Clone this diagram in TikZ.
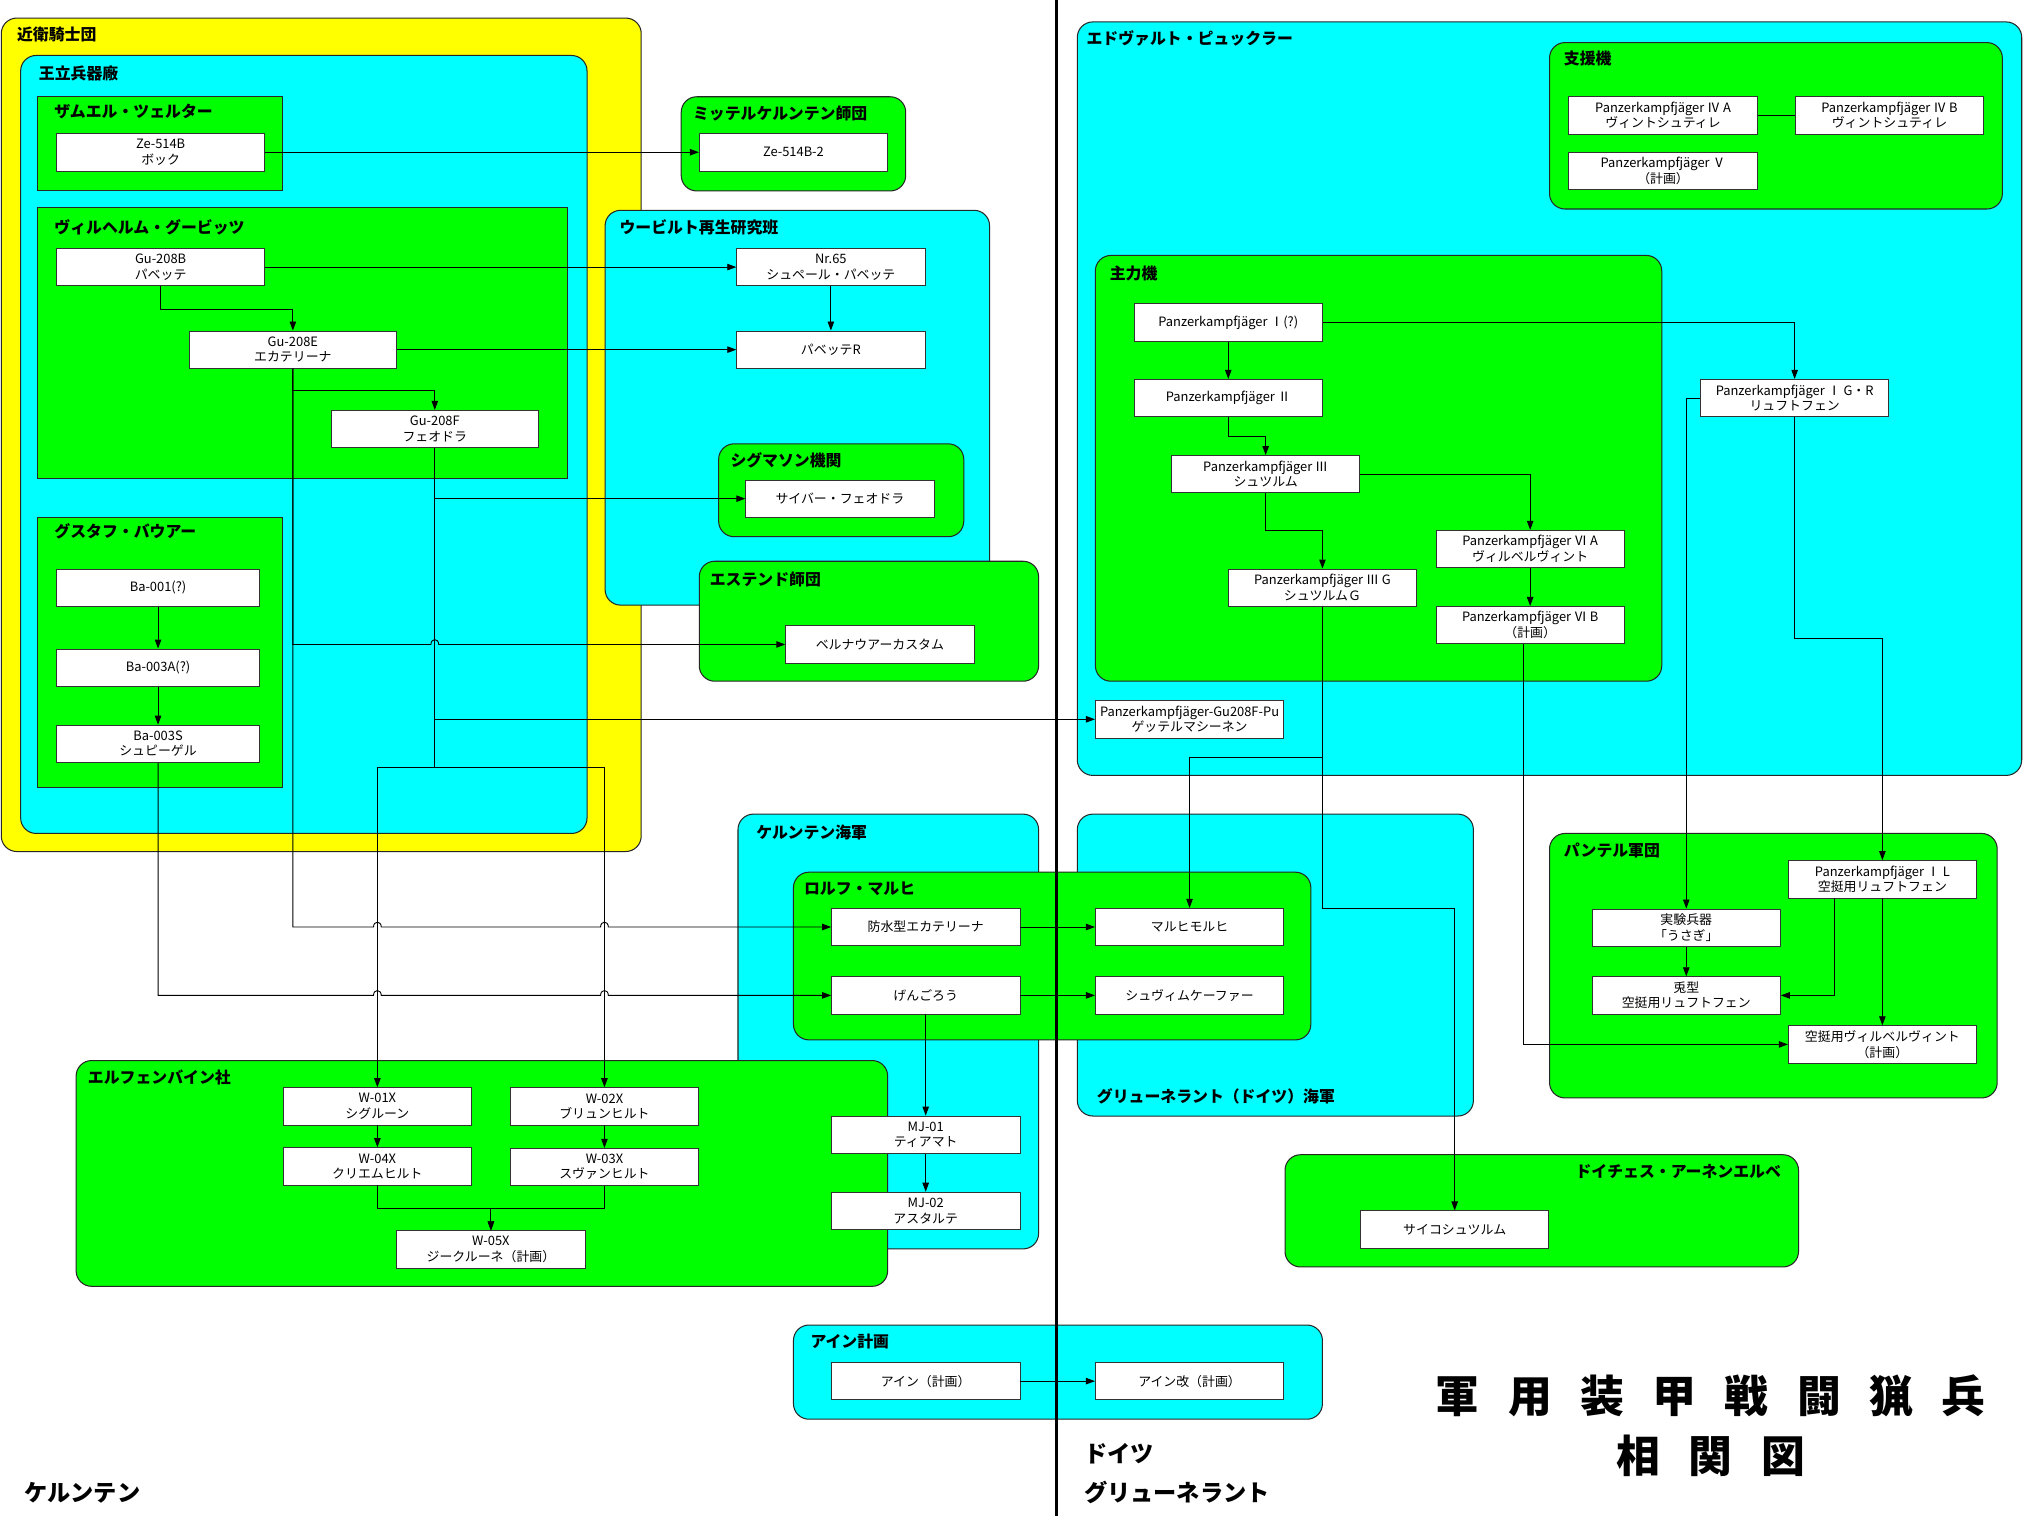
\documentclass[tikz,border=0pt]{standalone}
\usepackage{fontspec}
\setmainfont{Noto Sans CJK JP}
\usetikzlibrary{arrows.meta,calc}
\definecolor{cyanbg}{RGB}{0,255,255}
\definecolor{greenbg}{RGB}{0,255,0}
\definecolor{yellowbg}{RGB}{255,255,0}
\begin{document}
\begin{tikzpicture}[x=1pt,y=-1pt,
 box/.style={draw=black!80, line width=0.6pt, fill=white, minimum width=146pt, minimum height=29pt, inner sep=0pt, align=center, font=\fontsize{10}{12}\selectfont},
 wbox/.style={box, minimum width=161pt},
 bbox/.style={box, minimum width=157pt},
 ybg/.style={draw=black!85, line width=0.8pt, fill=yellowbg, rounded corners=12pt},
 cbg/.style={draw=black!85, line width=0.8pt, fill=cyanbg, rounded corners=12pt},
 gbg/.style={draw=black!85, line width=0.8pt, fill=greenbg, rounded corners=12pt},
 gsq/.style={draw=black!85, line width=0.8pt, fill=greenbg},
 glabel/.style={anchor=west, font=\fontsize{12.3}{14}\selectfont\bfseries, inner sep=0pt},
 arr/.style={draw, line width=0.7pt, -{Triangle[length=7pt,width=5pt]}},
 ln/.style={draw, line width=0.7pt},
 biglabel/.style={anchor=west, inner sep=0pt, font=\fontsize{18}{20}\selectfont\bfseries},
 title/.style={font=\fontsize{34}{40}\selectfont\bfseries, inner sep=0pt},
]
\useasboundingbox (0,0) rectangle (1568,1175);
\fill[white] (0,0) rectangle (1568,1175);

% ---------- groups ----------
\path[ybg] (1,14) rectangle (497,660);
\node[glabel] (lkonoe) at (13,27) {近衛騎士団};
\path[cbg] (16,43) rectangle (455,646);
\node[glabel] (lhei) at (30,57) {王立兵器廠};
\path[gsq] (29,75) rectangle (219,148);
\node[glabel] (lzam) at (42,86) {ザムエル・ツェルター};
\path[gsq] (29,161) rectangle (440,371);
\node[glabel] (lwil) at (42,176) {ヴィルヘルム・グービッツ};
\path[gsq] (29,401) rectangle (219,610);
\node[glabel] (lgus) at (42,412) {グスタフ・バウアー};

\path[gbg] (528,75) rectangle (702,148);
\node[glabel] (lmit) at (537,88) {ミッテルケルンテン師団};
\path[cbg] (469,163) rectangle (767,469);
\node[glabel] (luub) at (480,176) {ウービルト再生研究班};
\path[gbg] (557,344) rectangle (747,416);
\node[glabel] (lsig) at (566,357) {シグマソン機関};
\path[gbg] (542,435) rectangle (805,528);
\node[glabel] (lest) at (550,449) {エステンド師団};

\path[cbg] (835,17) rectangle (1567,601);
\node[glabel] (ledv) at (842,30) {エドヴァルト・ピュックラー};
\path[gbg] (1201,33) rectangle (1552,162);
\node[glabel] (lshi) at (1212,45) {支援機};
\path[gbg] (849,198) rectangle (1288,528);
\node[glabel] (lshu) at (860,212) {主力機};

\path[cbg] (572,631) rectangle (805,968);
\node[glabel] (lkn) at (586,645) {ケルンテン海軍};
\path[cbg] (835,631) rectangle (1142,865);
\node[glabel] (lgn) at (850,850) {グリューネラント（ドイツ）海軍};
\path[gbg] (615,676) rectangle (1016,806);
\node[glabel] (lrol) at (623,689) {ロルフ・マルヒ};
\path[gbg] (59,822) rectangle (688,997);
\node[glabel] (lelf) at (68,835) {エルフェンバイン社};
\path[gbg] (1201,646) rectangle (1548,851);
\node[glabel] (lpan) at (1212,659) {パンテル軍団};
\path[gbg] (996,895) rectangle (1394,982);
\node[glabel] (lahn) at (1221,908) {ドイチェス・アーネンエルベ};
\path[cbg] (615,1027) rectangle (1025,1100);
\node[glabel] (lein) at (628,1040) {アイン計画};

% ---------- nodes ----------
\node[wbox] (ze514b) at (124.5,118) {Ze-514B\\ボック};
\node[wbox] (gu208b) at (124.5,207) {Gu-208B\\パベッテ};
\node[wbox] (gu208e) at (227,271) {Gu-208E\\エカテリーナ};
\node[wbox] (gu208f) at (337,332.5) {Gu-208F\\フェオドラ};
\node[bbox] (ba001) at (122.5,455.5) {Ba-001(?)};
\node[bbox] (ba003a) at (122.5,517.5) {Ba-003A(?)};
\node[bbox] (ba003s) at (122.5,576.5) {Ba-003S\\シュピーゲル};

\node[box] (ze514b2) at (615,118) {Ze-514B-2};
\node[box] (nr65) at (644,207) {Nr.65\\シュペール・パベッテ};
\node[box] (babetter) at (644,271) {パベッテR};
\node[box] (cyber) at (651,386.5) {サイバー・フェオドラ};
\node[box] (bernauer) at (682,499.5) {ベルナウアーカスタム};

\node[box] (pz4a) at (1289,89.5) {Panzerkampfjäger Ⅳ A\\ヴィントシュティレ};
\node[box] (pz4b) at (1464.5,89.5) {Panzerkampfjäger Ⅳ B\\ヴィントシュティレ};
\node[box] (pz5) at (1289,132.5) {Panzerkampfjäger Ⅴ\\（計画）};
\node[box] (pz1) at (952,250) {Panzerkampfjäger Ⅰ(?)};
\node[box] (pz2) at (952,308.5) {Panzerkampfjäger Ⅱ};
\node[box] (pz3) at (981,367.5) {Panzerkampfjäger Ⅲ\\シュツルム};
\node[box] (pz6a) at (1186,425.5) {Panzerkampfjäger Ⅵ A\\ヴィルベルヴィント};
\node[box] (pz3g) at (1025,455.5) {Panzerkampfjäger Ⅲ G\\シュツルムＧ};
\node[box] (pz6b) at (1186,484.5) {Panzerkampfjäger Ⅵ B\\（計画）};
\node[box] (pzgr) at (1391,308.5) {Panzerkampfjäger Ⅰ G・R\\リュフトフェン};
\node[box] (goetter) at (922,557.5) {Panzerkampfjäger-Gu208F-Pu\\ゲッテルマシーネン};

\node[box] (bousui) at (717.5,718.5) {防水型エカテリーナ};
\node[box] (genbox) at (717.5,771.5) {げんごろう};
\node[box] (maruhi) at (922,718.5) {マルヒモルヒ};
\node[box] (schwimm) at (922,771.5) {シュヴィムケーファー};
\node[box] (mj01) at (717.5,879.5) {MJ-01\\ティアマト};
\node[box] (mj02) at (717.5,938.5) {MJ-02\\アスタルテ};

\node[box] (w01x) at (292.5,857.5) {W-01X\\シグルーン};
\node[box] (w02x) at (468.5,857.5) {W-02X\\ブリュンヒルト};
\node[box] (w04x) at (292.5,904) {W-04X\\クリエムヒルト};
\node[box] (w03x) at (468.5,904.5) {W-03X\\スヴァンヒルト};
\node[box] (w05x) at (380.5,968.5) {W-05X\\ジークルーネ（計画）};

\node[box] (pzil) at (1459,681.5) {Panzerkampfjäger Ⅰ L\\空挺用リュフトフェン};
\node[box] (usagi) at (1307,719) {実験兵器\\「うさぎ」};
\node[box] (usagitype) at (1307,771.5) {兎型\\空挺用リュフトフェン};
\node[box] (ptvw) at (1459,809.5) {空挺用ヴィルベルヴィント\\（計画）};
\node[box] (psycho) at (1127.5,953) {サイコシュツルム};

\node[box] (ein) at (717.5,1070.5) {アイン（計画）};
\node[box] (einkai) at (922,1070.5) {アイン改（計画）};

% ---------- connectors: left ----------
\draw[arr] (ze514b.east) -- (ze514b2.west);
\draw[arr] (gu208b.east) -- (nr65.west);
\draw[arr] (gu208b.south) -- ++(0,18) -| (gu208e.north);
\draw[arr] (gu208e.east) -- (babetter.west);
\draw[arr] (gu208e.south) -- ++(0,17) -| (gu208f.north);
\draw[arr] (nr65.south) -- (babetter.north);
\draw[arr] (gu208f.south) |- (cyber.west);
\draw[arr] (gu208f.south) |- (goetter.west);
\draw[arr] (gu208f.south) -- (337,595) -| (w01x.north);
\draw[arr] (gu208f.south) -- (337,595) -| (w02x.north);
\draw[arr] (gu208e.south) -- (227,499.5) -- (334,499.5) .. controls (334,494.5) and (340,494.5) .. (340,499.5) -- (bernauer.west);
\draw[arr] (gu208e.south) -- (227,718.5) -- (289.5,718.5) .. controls (289.5,713.5) and (295.5,713.5) .. (295.5,718.5)
  -- (465.5,718.5) .. controls (465.5,713.5) and (471.5,713.5) .. (471.5,718.5) -- (bousui.west);
\draw[arr] (ba003s.south) -- (122.5,771.5) -- (289.5,771.5) .. controls (289.5,766.5) and (295.5,766.5) .. (295.5,771.5)
  -- (465.5,771.5) .. controls (465.5,766.5) and (471.5,766.5) .. (471.5,771.5) -- (genbox.west);
\draw[arr] (ba001.south) -- (ba003a.north);
\draw[arr] (ba003a.south) -- (ba003s.north);

\draw[arr] (w01x.south) -- (w04x.north);
\draw[arr] (w02x.south) -- (w03x.north);
\draw[arr] (w04x.south) -- ++(0,18) -| (w05x.north);
\draw[arr] (w03x.south) -- ++(0,17) -| (w05x.north);

\draw[arr] (bousui.east) -- (maruhi.west);
\draw[arr] (genbox.east) -- (schwimm.west);
\draw[arr] (genbox.south) -- (mj01.north);
\draw[arr] (mj01.south) -- (mj02.north);
\draw[arr] (ein.east) -- (einkai.west);

% ---------- connectors: right ----------
\draw[ln] (pz4a.east) -- (pz4b.west);
\draw[arr] (pz1.south) -- (pz2.north);
\draw[arr] (pz1.east) -| (pzgr.north);
\draw[arr] (pz2.south) -- ++(0,15) -| (pz3.north);
\draw[arr] (pz3.east) -| (pz6a.north);
\draw[arr] (pz3.south) -- ++(0,29) -| (pz3g.north);
\draw[arr] (pz6a.south) -- (pz6b.north);
\draw[arr] ([xshift=-5pt]pz6b.south) |- (ptvw.west);
\draw[arr] (pz3g.south) -- (1025,587) -| (maruhi.north);
\draw[arr] (pz3g.south) -- (1025,704) -| (psycho.north);
\draw[arr] (pzgr.west) -| (usagi.north);
\draw[arr] (pzgr.south) -- (1391,495) -| (pzil.north);
\draw[arr] ([xshift=-37pt]pzil.south) |- (usagitype.east);
\draw[arr] (pzil.south) -- (ptvw.north);
\draw[arr] (usagi.south) -- (usagitype.north);

% ---------- divider and titles ----------
\draw[line width=2pt] (819,0) -- (819,1175);

\node[title] (title1) at (1326,1082)
 {軍\hspace{22pt}用\hspace{22pt}装\hspace{22pt}甲\hspace{22pt}戦\hspace{22pt}闘\hspace{22pt}猟\hspace{22pt}兵};
\node[title] (title2) at (1326,1128)
 {相\hspace{22pt}関\hspace{22pt}図};
\node[biglabel] (lkern) at (19,1157) {ケルンテン};
\node[biglabel] (ldoitsu) at (840,1127) {ドイツ};
\node[biglabel] (lgrn) at (840,1157) {グリューネラント};
\end{tikzpicture}
\end{document}
